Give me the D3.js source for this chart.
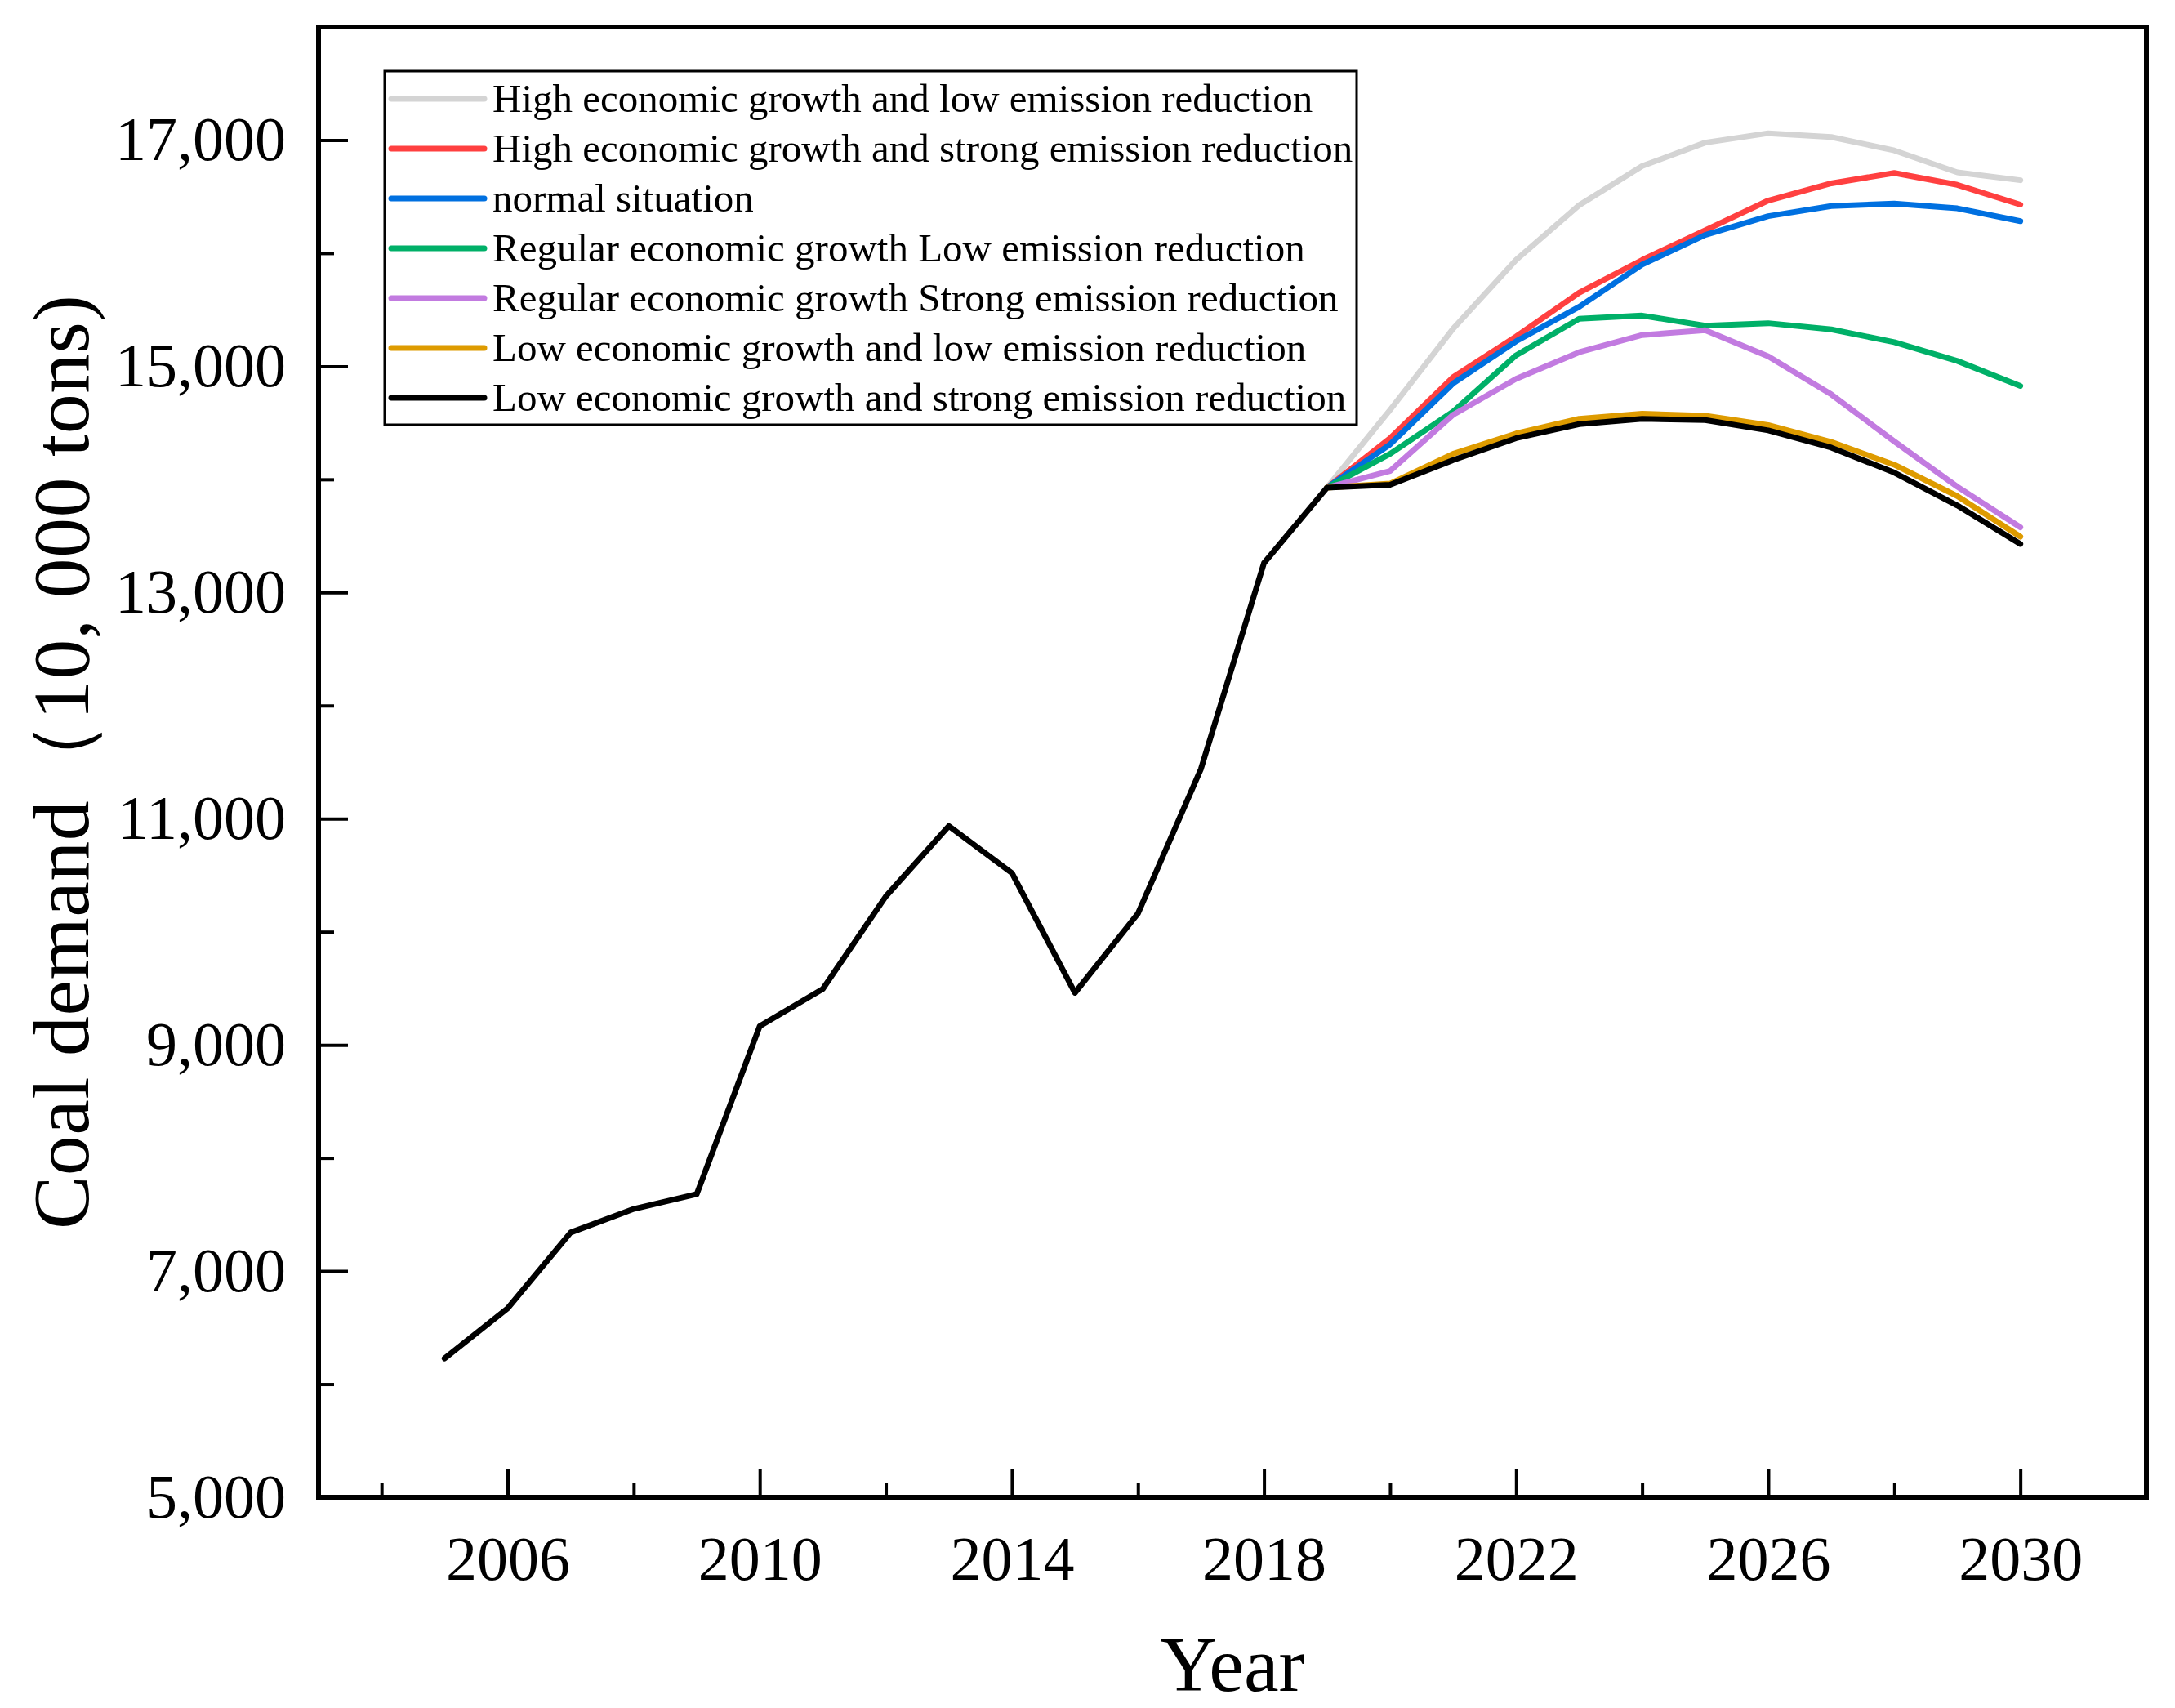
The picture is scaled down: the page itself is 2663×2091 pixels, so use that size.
<!DOCTYPE html>
<html>
<head>
<meta charset="utf-8">
<script src="https://cdn.jsdelivr.net/npm/d3@7"></script>
<style>
  body { margin: 0; background: #fff; }
</style>
</head>
<body>
<div id="chart"></div>
<script>
// historical coal demand (10,000 tons)
const histYears = [2005, 2006, 2007, 2008, 2009, 2010, 2011, 2012, 2013, 2014, 2015, 2016, 2017, 2018];
const histDemand = [6228, 6670, 7341, 7549, 7680, 9166, 9494, 10313, 10935, 10520, 9460, 10161, 11440, 13260];

// scenario forecasts, 2019 - 2030
const forecastYears = [2019, 2020, 2021, 2022, 2023, 2024, 2025, 2026, 2027, 2028, 2029, 2030];
const highGrowthLowReduction = [13927, 14614, 15332, 15941, 16424, 16770, 16977, 17060, 17027, 16908, 16714, 16645];
const highGrowthStrongReduction = [13927, 14364, 14903, 15263, 15650, 15940, 16203, 16465, 16617, 16709, 16604, 16429];
const normalSituation = [13927, 14309, 14848, 15221, 15525, 15899, 16161, 16327, 16416, 16438, 16396, 16283];
const regularGrowthLowReduction = [13927, 14226, 14599, 15097, 15420, 15448, 15359, 15381, 15326, 15213, 15047, 14826];
const regularGrowthStrongReduction = [13927, 14074, 14571, 14889, 15124, 15276, 15318, 15088, 14751, 14336, 13935, 13576];
const lowGrowthLowReduction = [13927, 13962, 14226, 14405, 14535, 14580, 14563, 14480, 14331, 14129, 13852, 13493];
const lowGrowthStrongReduction = [13927, 13952, 14170, 14364, 14488, 14535, 14524, 14433, 14281, 14060, 13769, 13429];

const scenarioNames = [
  "High economic growth and low emission reduction",
  "High economic growth and strong emission reduction",
  "normal situation",
  "Regular economic growth Low emission reduction",
  "Regular economic growth Strong emission reduction",
  "Low economic growth and low emission reduction",
  "Low economic growth and strong emission reduction"
];
const scenarioValues = [
  highGrowthLowReduction, highGrowthStrongReduction, normalSituation,
  regularGrowthLowReduction, regularGrowthStrongReduction,
  lowGrowthLowReduction, lowGrowthStrongReduction
];
const scenarioColors = ["#d4d4d4", "#ff4040", "#0070e0", "#00b068", "#c27be0", "#de9b00", "#000000"];

const yMajorTicks = [5000, 7000, 9000, 11000, 13000, 15000, 17000];
const yMinorTicks = [6000, 8000, 10000, 12000, 14000, 16000];
const xMajorTicks = [2006, 2010, 2014, 2018, 2022, 2026, 2030];
const xMinorTicks = [2004, 2008, 2012, 2016, 2020, 2024, 2028];

const width = 2663;
const height = 2091;
const margin = { top: 33, right: 35, bottom: 258, left: 390 };
const innerW = width - margin.left - margin.right;
const innerH = height - margin.top - margin.bottom;

const serif = "'Liberation Serif', 'Times New Roman', serif";

const svg = d3.select("#chart")
  .append("svg")
  .attr("width", width)
  .attr("height", height);

const g = svg.append("g").attr("transform", `translate(${margin.left},${margin.top})`);

const x = d3.scaleLinear().domain([2003, 2032]).range([0, innerW]);
const y = d3.scaleLinear().domain([5000, 18000]).range([innerH, 0]);

// build the series, the last scenario carries the historical part
let series = scenarioNames.map((name, i) => {
  let pts = forecastYears.map((yr, j) => ({ year: yr, value: scenarioValues[i][j] }));
  if (i == scenarioNames.length - 1) {
    pts = histYears.map((yr, j) => ({ year: yr, value: histDemand[j] })).concat(pts);
  }
  return { name, color: scenarioColors[i], points: pts };
});

const line = d3.line()
  .x((d) => x(d.year))
  .y((d) => y(d.value));

g.append("g")
  .selectAll("path")
  .data(series)
  .enter()
  .append("path")
  .attr("d", (d) => line(d.points))
  .attr("fill", "none")
  .attr("stroke", (d) => d.color)
  .attr("stroke-width", 7)
  .attr("stroke-linejoin", "round")
  .attr("stroke-linecap", "round");

// axes (ticks point inwards)
function styleAxis(sel, fontSize) {
  sel.select(".domain").remove();
  sel.selectAll(".tick line").attr("stroke", "#000").attr("stroke-width", 4);
  sel.selectAll(".tick text")
    .attr("fill", "#000")
    .style("font-family", serif)
    .style("font-size", fontSize + "px");
}

g.append("g")
  .call(d3.axisLeft(y).tickValues(yMajorTicks).tickFormat(d3.format(",")).tickSize(-36).tickPadding(40))
  .call(styleAxis, 76);
g.append("g")
  .call(d3.axisLeft(y).tickValues(yMinorTicks).tickFormat("").tickSize(-19))
  .call(styleAxis, 76);

g.append("g")
  .attr("transform", `translate(0,${innerH})`)
  .call(d3.axisBottom(x).tickValues(xMajorTicks).tickFormat(d3.format("d")).tickSize(-34).tickPadding(47))
  .call(styleAxis, 76);
g.append("g")
  .attr("transform", `translate(0,${innerH})`)
  .call(d3.axisBottom(x).tickValues(xMinorTicks).tickFormat("").tickSize(-17))
  .call(styleAxis, 76);

// frame
g.append("rect")
  .attr("width", innerW)
  .attr("height", innerH)
  .attr("fill", "none")
  .attr("stroke", "#000")
  .attr("stroke-width", 6);

// axis titles
svg.append("text")
  .attr("x", margin.left + innerW / 2)
  .attr("y", 2070)
  .attr("text-anchor", "middle")
  .style("font-family", serif)
  .style("font-size", "96px")
  .text("Year");

svg.append("text")
  .attr("transform", `translate(108,${margin.top + innerH / 2}) rotate(-90)`)
  .attr("text-anchor", "middle")
  .attr("textLength", 1144)
  .attr("lengthAdjust", "spacing")
  .style("font-family", serif)
  .style("font-size", "98px")
  .text("Coal demand（10, 000 tons)");

// legend
const legend = svg.append("g").attr("transform", "translate(471,87)");
legend.append("rect")
  .attr("width", 1190)
  .attr("height", 433)
  .attr("fill", "#fff")
  .attr("stroke", "#000")
  .attr("stroke-width", 3);

const rows = legend.selectAll("g.row")
  .data(series)
  .enter()
  .append("g")
  .attr("class", "row")
  .attr("transform", (d, i) => `translate(0,${34 + i * 61})`);

rows.append("line")
  .attr("x1", 8)
  .attr("x2", 122)
  .attr("stroke", (d) => d.color)
  .attr("stroke-width", 7)
  .attr("stroke-linecap", "round");

rows.append("text")
  .attr("x", 132)
  .attr("y", 16)
  .style("font-family", serif)
  .style("font-size", "49px")
  .text((d) => d.name);
</script>
</body>
</html>
